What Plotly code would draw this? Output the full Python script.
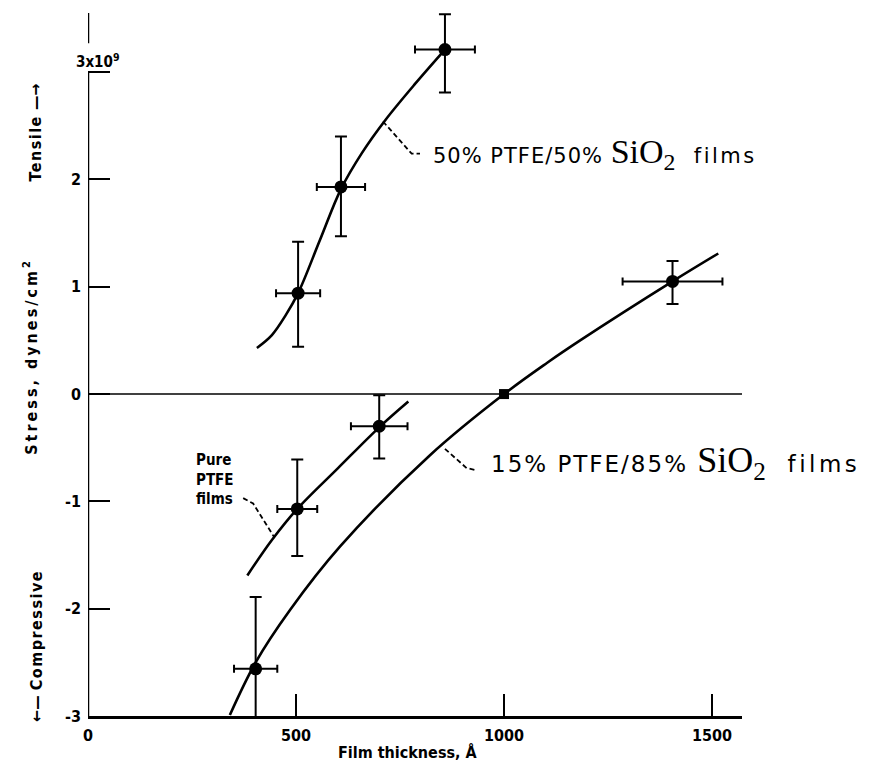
import plotly.graph_objects as go

# ---------------- data ----------------
# 50% PTFE / 50% SiO2 films
x_5050 = [505, 608, 858]
y_5050 = [0.94, 1.93, 3.21]
yerr_up_5050 = [0.48, 0.47, 0.33]
yerr_dn_5050 = [0.50, 0.46, 0.40]
xerr_5050 = [53, 58, 72]
curve_x_5050 = [406, 442, 476, 505, 558, 608, 659, 714, 786, 858]
curve_y_5050 = [0.43, 0.55, 0.74, 0.94, 1.44, 1.91, 2.25, 2.55, 2.89, 3.21]

# Pure PTFE films
x_pure = [503, 700]
y_pure = [-1.07, -0.30]
yerr_up_pure = [0.46, 0.29]
yerr_dn_pure = [0.44, 0.30]
xerr_pure = [48, 68]
curve_x_pure = [383, 442, 503, 601, 700, 770]
curve_y_pure = [-1.69, -1.36, -1.07, -0.69, -0.31, -0.07]

# 15% PTFE / 85% SiO2 films
x_1585 = [403, 1405]
y_1585 = [-2.56, 1.05]
yerr_up_1585 = [0.67, 0.19]
yerr_dn_1585 = [0.67, 0.21]
xerr_1585 = [52, 120]
x_1585_zero = [1000]
y_1585_zero = [0]
curve_x_1585 = [341, 403, 486, 606, 822, 1000, 1103, 1183, 1405, 1515]
curve_y_1585 = [-2.99, -2.50, -2.01, -1.42, -0.57, 0.0, 0.29, 0.50, 1.05, 1.31]

x_ticks = [0, 500, 1000, 1500]
y_ticks = [-3, -2, -1, 0, 1, 2, 3]
y_ticktext = ["-3", "-2", "-1", "0", "1", "2", ""]

# ---------------- figure ----------------
AXF = "Liberation Sans Narrow, DejaVu Sans Condensed, Arial Narrow, sans-serif"
LBF = "DejaVu Sans, Liberation Sans, sans-serif"
SERIF = "Liberation Serif, Times New Roman, serif"
BLACK = "black"

fig = go.Figure()

def curve(xs, ys):
    fig.add_trace(go.Scatter(x=xs, y=ys, mode="lines",
                             line=dict(color=BLACK, width=2.6, shape="spline", smoothing=1.0),
                             hoverinfo="skip"))

def points(xs, ys, up, dn, xe, symbol="circle", size=13):
    fig.add_trace(go.Scatter(
        x=xs, y=ys, mode="markers",
        marker=dict(color=BLACK, size=size, symbol=symbol),
        error_y=dict(type="data", symmetric=False, array=up, arrayminus=dn,
                     color=BLACK, thickness=2, width=6),
        error_x=dict(type="data", array=xe, color=BLACK, thickness=2, width=4),
    ))

curve(curve_x_5050, curve_y_5050)
curve(curve_x_pure, curve_y_pure)
curve(curve_x_1585, curve_y_1585)
points(x_5050, y_5050, yerr_up_5050, yerr_dn_5050, xerr_5050)
points(x_pure, y_pure, yerr_up_pure, yerr_dn_pure, xerr_pure)
points(x_1585, y_1585, yerr_up_1585, yerr_dn_1585, xerr_1585)
fig.add_trace(go.Scatter(x=x_1585_zero, y=y_1585_zero, mode="markers",
                         marker=dict(color=BLACK, size=10, symbol="square")))

# dashed leader lines
def leader(xs, ys):
    fig.add_trace(go.Scatter(x=xs, y=ys, mode="lines",
                             line=dict(color=BLACK, width=1.8, dash="5px,3px"),
                             hoverinfo="skip"))

leader([709, 778, 798], [2.54, 2.24, 2.24])
leader([858, 910, 934], [-0.51, -0.69, -0.71])
leader([373, 397, 447], [-0.97, -1.02, -1.33])

fig.update_layout(
    width=873, height=765,
    margin=dict(l=88, r=131, t=10, b=49),
    paper_bgcolor="white", plot_bgcolor="white",
    showlegend=False,
)
fig.update_xaxes(
    range=[0, 1572], tickvals=x_ticks, ticktext=[str(v) for v in x_ticks],
    ticks="inside", ticklen=22, tickwidth=2, tickcolor=BLACK,
    showgrid=False, zeroline=False, showline=True, linecolor=BLACK, linewidth=2.5,
    tickfont=dict(family=AXF, size=16, color=BLACK, weight="bold"),
    ticklabelstandoff=3,
)
fig.update_yaxes(
    range=[-3, 3.579], tickvals=y_ticks, ticktext=y_ticktext,
    ticks="inside", ticklen=22, tickwidth=2, tickcolor=BLACK,
    showgrid=False, zeroline=False, showline=False,
    tickfont=dict(family=AXF, size=16, color=BLACK, weight="bold"),
    ticklabelstandoff=6,
)

# y axis line with a gap for the "3x10^9" label, and the zero line
fig.add_shape(type="line", xref="x", yref="y", x0=0, x1=0, y0=-3, y1=3,
              line=dict(color=BLACK, width=2.5))
fig.add_shape(type="line", xref="x", yref="y", x0=0, x1=0, y0=3.27, y1=3.55,
              line=dict(color=BLACK, width=2.5))
fig.add_shape(type="line", xref="x", yref="y", x0=0, x1=1572, y0=0, y1=0,
              line=dict(color=BLACK, width=1.6))

def pann(text, x, y, size=16, family=AXF, angle=0, xanchor="center", weight="bold"):
    fig.add_annotation(text=text, x=x, y=y, xref="paper", yref="paper", showarrow=False,
                       textangle=angle, xanchor=xanchor, yanchor="middle",
                       font=dict(family=family, size=size, color=BLACK, weight=weight))

def ann(text, x, y, size=15, family=AXF, xanchor="center", align="center", weight="bold"):
    fig.add_annotation(text=text, x=x, y=y, xref="x", yref="y", showarrow=False,
                       xanchor=xanchor, yanchor="middle", align=align,
                       font=dict(family=family, size=size, color=BLACK, weight=weight))

SP3 = "<span style='letter-spacing:3px'>{}</span>"
SP15 = "<span style='letter-spacing:1.5px'>{}</span>"
pann("3x10<sup>9</sup>", -0.022, 0.928, size=15, xanchor="left")
pann(SP3.format("Stress, dynes/cm") + "<sup>2</sup>", -0.088, 0.508, size=16, angle=-90)
pann(SP15.format("Tensile") + " —→", -0.080, 0.826, size=16, angle=-90)
pann("←— " + SP15.format("Compressive"), -0.080, 0.099, size=16, angle=-90)
pann("Film thickness, Å", 0.489, -0.051, size=16)

ann("Pure<br>PTFE<br>films", 255, -0.80, size=15, xanchor="left", align="left")

def series_label(a, b, size, sio2_size, ls, fls):
    sio2 = ("<span style='font-family:" + SERIF + ";font-size:" + str(sio2_size)
            + "px;font-weight:normal'>SiO<sub>2</sub></span>")
    return ("<span style='letter-spacing:" + str(ls) + "px'>" + a + "% PTFE/" + b + "% </span>"
            + sio2 + "<span style='letter-spacing:" + str(fls) + "px'>  films</span>")

ann(series_label("50", "50", 21, 34, 1, 2.5), 824, 2.24, size=21, family=LBF,
    xanchor="left", weight="normal")
ann(series_label("15", "85", 23, 36, 2, 3.5), 964, -0.64, size=23, family=LBF,
    xanchor="left", weight="normal")

fig.write_html("out.html")
